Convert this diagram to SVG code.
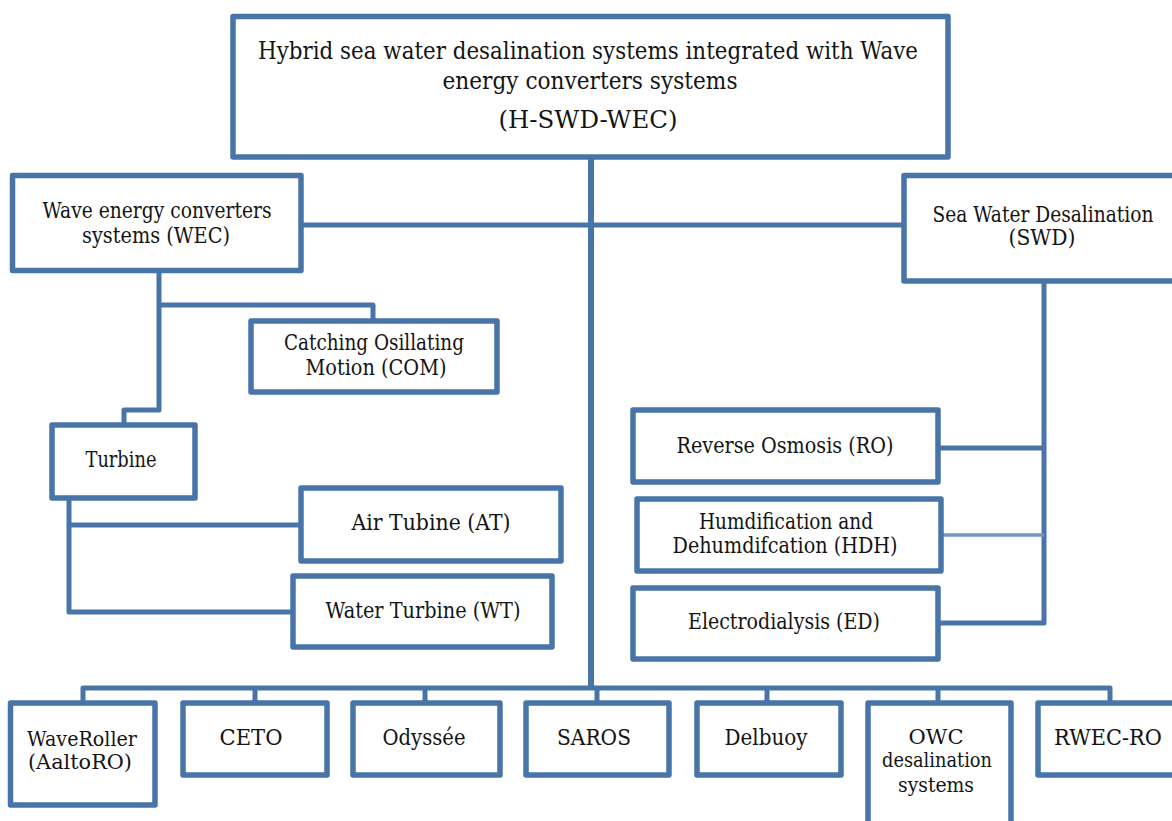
<svg xmlns="http://www.w3.org/2000/svg" width="1172" height="821" viewBox="0 0 1172 821">
<style>
.box{fill:#fff;stroke:#4874A8;stroke-width:5.5;stroke-linejoin:round}
.ln{fill:none;stroke:#4874A8;stroke-width:5;stroke-linejoin:round}
text{font-family:"DejaVu Serif",serif;font-size:22px;fill:#141414;text-anchor:middle}
.big{font-size:25px}
.sm{font-size:20px}
</style>
<rect width="1172" height="821" fill="#fff"/>
<g id="connectors">
<path class="ln" d="M591,157 V688" style="stroke-width:6"/>
<path class="ln" d="M301,225 H904"/>
<path class="ln" d="M159,270 V410 H124 V425"/>
<path class="ln" d="M159,305 H373 V321"/>
<path class="ln" d="M69,498 V612 H293"/>
<path class="ln" d="M69,525 H301"/>
<path class="ln" d="M1044,281 V623 H938"/>
<path class="ln" d="M938,448 H1044"/>
<path class="ln" d="M941,535 H1044" style="stroke:#7497C2;stroke-width:3.5"/>
<path class="ln" d="M83,703 V688 H1110 V703"/>
<path class="ln" d="M255,688 V703 M425,688 V703 M597,688 V703 M767,688 V703 M938,688 V703"/>
</g>
<g id="n-top"><rect class="box" x="233" y="16.5" width="715" height="140.5"/>
<text class="big" x="588" y="59" textLength="660" lengthAdjust="spacingAndGlyphs">Hybrid sea water desalination systems integrated with Wave</text>
<text class="big" x="590" y="89" textLength="295" lengthAdjust="spacingAndGlyphs">energy converters systems</text>
<text class="big" x="588" y="128" textLength="179" lengthAdjust="spacingAndGlyphs">(H-SWD-WEC)</text></g>
<g id="n-wec"><rect class="box" x="12.5" y="175.5" width="288.5" height="95"/>
<text x="157" y="218" textLength="229" lengthAdjust="spacingAndGlyphs">Wave energy converters</text>
<text x="156" y="243" textLength="148" lengthAdjust="spacingAndGlyphs">systems (WEC)</text></g>
<g id="n-swd"><rect class="box" x="904" y="175.5" width="275" height="105.5"/>
<text x="1043" y="222" textLength="221" lengthAdjust="spacingAndGlyphs">Sea Water Desalination</text>
<text x="1042" y="245" textLength="67" lengthAdjust="spacingAndGlyphs">(SWD)</text></g>
<g id="n-com"><rect class="box" x="251" y="321" width="246" height="71"/>
<text x="374" y="350" textLength="180" lengthAdjust="spacingAndGlyphs">Catching Osillating</text>
<text x="376" y="375" textLength="141" lengthAdjust="spacingAndGlyphs">Motion (COM)</text></g>
<g id="n-turbine"><rect class="box" x="52" y="425" width="143" height="73"/>
<text x="121" y="467" textLength="71" lengthAdjust="spacingAndGlyphs">Turbine</text></g>
<g id="n-at"><rect class="box" x="301" y="488" width="260" height="73"/>
<text x="431" y="530" textLength="159" lengthAdjust="spacingAndGlyphs">Air Tubine (AT)</text></g>
<g id="n-wt"><rect class="box" x="293" y="576" width="259" height="71"/>
<text x="423" y="618" textLength="195" lengthAdjust="spacingAndGlyphs">Water Turbine (WT)</text></g>
<g id="n-ro"><rect class="box" x="633" y="410" width="305" height="72"/>
<text x="785" y="453" textLength="217" lengthAdjust="spacingAndGlyphs">Reverse Osmosis (RO)</text></g>
<g id="n-hdh"><rect class="box" x="637" y="499" width="304" height="72"/>
<text x="786" y="529" textLength="174" lengthAdjust="spacingAndGlyphs">Humdification and</text>
<text x="785" y="553" textLength="225" lengthAdjust="spacingAndGlyphs">Dehumdifcation (HDH)</text></g>
<g id="n-ed"><rect class="box" x="633" y="588" width="305" height="71"/>
<text x="784" y="629" textLength="192" lengthAdjust="spacingAndGlyphs">Electrodialysis (ED)</text></g>
<g id="n-waveroller"><rect class="box" x="10.5" y="703" width="144.5" height="102"/>
<text class="sm" x="82" y="746" textLength="110" lengthAdjust="spacingAndGlyphs">WaveRoller</text>
<text class="sm" x="80" y="769" textLength="104" lengthAdjust="spacingAndGlyphs">(AaltoRO)</text></g>
<g id="n-ceto"><rect class="box" x="183" y="703" width="144" height="72"/>
<text x="251" y="745" textLength="63" lengthAdjust="spacingAndGlyphs">CETO</text></g>
<g id="n-odyssee"><rect class="box" x="353" y="703" width="147" height="72"/>
<text x="424" y="745" textLength="83" lengthAdjust="spacingAndGlyphs">Odyssée</text></g>
<g id="n-saros"><rect class="box" x="526" y="703" width="143" height="72"/>
<text x="594" y="745" textLength="74" lengthAdjust="spacingAndGlyphs">SAROS</text></g>
<g id="n-delbuoy"><rect class="box" x="697" y="703" width="144" height="72"/>
<text x="766" y="745" textLength="83" lengthAdjust="spacingAndGlyphs">Delbuoy</text></g>
<g id="n-owc"><rect class="box" x="868" y="703" width="143" height="130"/>
<text class="sm" x="936" y="744" textLength="55" lengthAdjust="spacingAndGlyphs">OWC</text>
<text class="sm" x="937" y="767" textLength="110" lengthAdjust="spacingAndGlyphs">desalination</text>
<text class="sm" x="936" y="792" textLength="76" lengthAdjust="spacingAndGlyphs">systems</text></g>
<g id="n-rwec"><rect class="box" x="1038" y="703" width="142" height="72"/>
<text x="1108" y="745" textLength="108" lengthAdjust="spacingAndGlyphs">RWEC-RO</text></g>
</svg>
